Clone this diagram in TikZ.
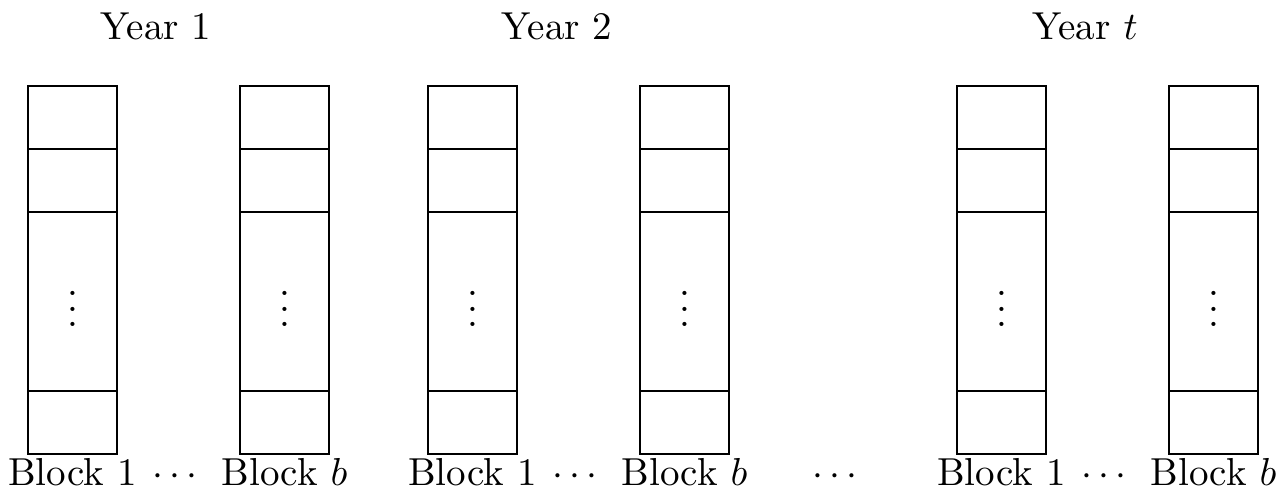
\documentclass[tikz,border=0pt]{standalone}
\begin{document}
\begin{tikzpicture}[x=0.2564pt,y=-0.2564pt,
  cell/.style={draw,line width=0.4pt,minimum width=22.82pt,inner sep=0pt,outer sep=0pt,anchor=north},
  small/.style={cell,minimum height=16.15pt},
  tall/.style={cell,minimum height=45.9pt},
  lab/.style={anchor=base,inner sep=0pt}]
\useasboundingbox (0,0) rectangle (1277,499);
% six blocks, each a stack of cells with an elided middle part
\foreach \c/\x in {a/72.5,b/284.5,c/472.5,d/684.5,e/1001.5,f/1213.5}{
  \node[small] (\c1) at (\x,86) {};
  \node[small] (\c2) at (\c1.south) {};
  \node[tall]  (\c3) at (\c2.south) {};
  \node[small] (\c4) at (\c3.south) {};
  \node[inner sep=0pt,yshift=1pt] (\c v) at (\c3.center) {$\vdots$};
}
% year headings
\node[lab] (y1) at (156,40) {Year 1};
\node[lab] (y2) at (557,40) {Year 2};
\node[lab] (yt) at (1085,40) {Year $t$};
% block labels
\node[lab] (la) at (a4.south |- 0,486) {Block 1};
\node[lab] (lb) at (b4.south |- 0,486) {Block $b$};
\node[lab] (lc) at (c4.south |- 0,486) {Block 1};
\node[lab] (ld) at (d4.south |- 0,486) {Block $b$};
\node[lab] (le) at (e4.south |- 0,486) {Block 1};
\node[lab] (lf) at (f4.south |- 0,486) {Block $b$};
\node[lab] (d1) at (175,486) {$\cdots$};
\node[lab] (d2) at (575,486) {$\cdots$};
\node[lab] (d3) at (835,486) {$\cdots$};
\node[lab] (d4) at (1104,486) {$\cdots$};
\end{tikzpicture}
\end{document}
